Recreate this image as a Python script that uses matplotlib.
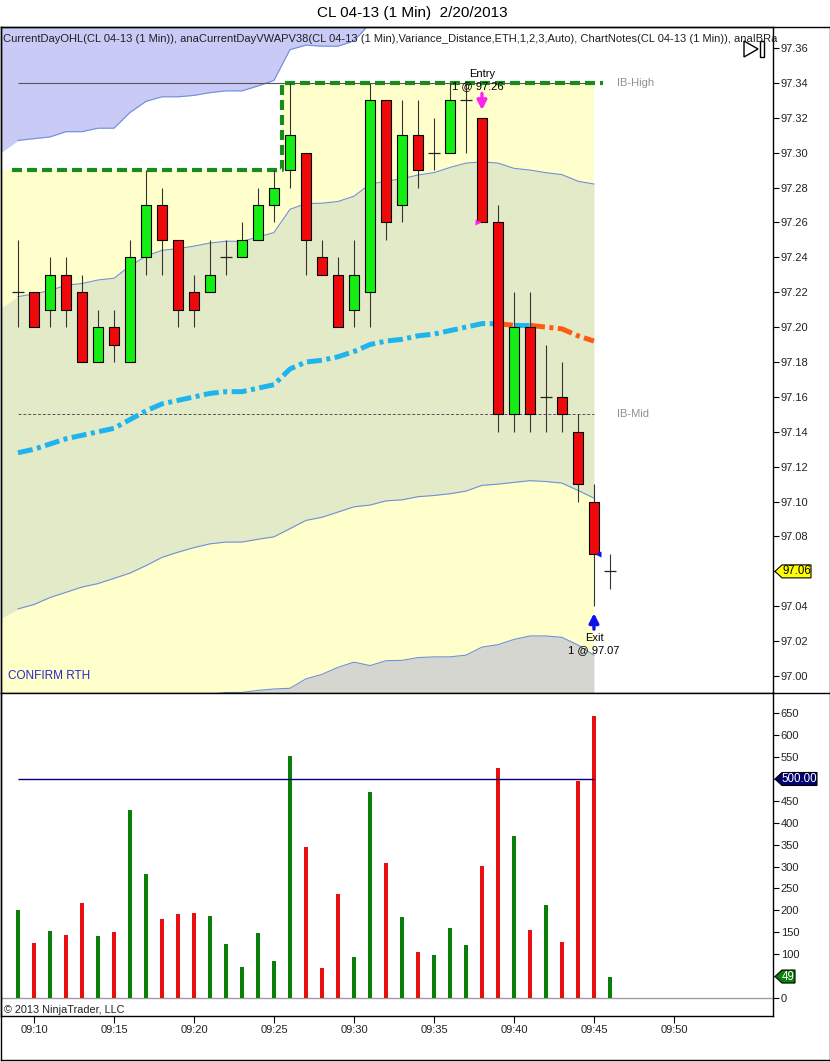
import numpy as np
import matplotlib
matplotlib.use('Agg')
import matplotlib.pyplot as plt
from matplotlib.patches import Polygon, Rectangle
from matplotlib.lines import Line2D
from matplotlib.transforms import IdentityTransform

plt.rcParams['font.family'] = ['Liberation Sans', 'DejaVu Sans']

# ---------------- data ----------------
title = "CL 04-13 (1 Min)  2/20/2013"
indicator_text = ("CurrentDayOHL(CL 04-13 (1 Min)), anaCurrentDayVWAPV38(CL 04-13 (1 Min),"
                  "Variance_Distance,ETH,1,2,3,Auto), ChartNotes(CL 04-13 (1 Min)), anaIBRa")

bar_times = ["09:09", "09:10", "09:11", "09:12", "09:13", "09:14", "09:15", "09:16", "09:17", "09:18",
             "09:19", "09:20", "09:21", "09:22", "09:23", "09:24", "09:25", "09:26", "09:27", "09:28",
             "09:29", "09:30", "09:31", "09:32", "09:33", "09:34", "09:35", "09:36", "09:37", "09:38",
             "09:39", "09:40", "09:41", "09:42", "09:43", "09:44", "09:45", "09:46"]

opens = [97.22, 97.22, 97.21, 97.23, 97.22, 97.18, 97.20, 97.18, 97.24, 97.27,
         97.25, 97.22, 97.22, 97.24, 97.24, 97.25, 97.27, 97.29, 97.30, 97.24,
         97.23, 97.21, 97.22, 97.33, 97.27, 97.31, 97.30, 97.30, 97.33, 97.32,
         97.26, 97.15, 97.20, 97.16, 97.16, 97.14, 97.10, 97.06]
highs = [97.25, 97.22, 97.24, 97.24, 97.23, 97.21, 97.21, 97.25, 97.29, 97.28,
         97.25, 97.23, 97.25, 97.25, 97.26, 97.28, 97.29, 97.34, 97.30, 97.25,
         97.24, 97.25, 97.34, 97.33, 97.33, 97.33, 97.32, 97.34, 97.34, 97.32,
         97.27, 97.22, 97.22, 97.19, 97.18, 97.15, 97.11, 97.07]
lows = [97.20, 97.20, 97.20, 97.20, 97.18, 97.18, 97.18, 97.18, 97.23, 97.23,
        97.20, 97.20, 97.22, 97.23, 97.24, 97.25, 97.26, 97.28, 97.23, 97.23,
        97.20, 97.20, 97.20, 97.25, 97.26, 97.28, 97.29, 97.30, 97.30, 97.26,
        97.14, 97.14, 97.14, 97.14, 97.14, 97.10, 97.04, 97.05]
closes = [97.22, 97.20, 97.23, 97.21, 97.18, 97.20, 97.19, 97.24, 97.27, 97.25,
          97.21, 97.21, 97.23, 97.24, 97.25, 97.27, 97.28, 97.31, 97.25, 97.23,
          97.20, 97.23, 97.33, 97.26, 97.31, 97.29, 97.30, 97.33, 97.33, 97.26,
          97.15, 97.20, 97.15, 97.16, 97.15, 97.11, 97.07, 97.06]
volumes = [201, 126, 153, 144, 217, 142, 151, 429, 283, 180,
           192, 194, 187, 123, 71, 148, 84, 552, 345, 68,
           237, 94, 470, 308, 185, 105, 98, 160, 121, 301,
           525, 370, 155, 212, 128, 495, 644, 49]

# VWAP and standard deviation (09:09 .. 09:45)
vwap = [97.128, 97.130, 97.133, 97.136, 97.138, 97.140, 97.142, 97.147, 97.152, 97.156,
        97.158, 97.160, 97.162, 97.163, 97.163, 97.165, 97.167, 97.176, 97.180, 97.181,
        97.183, 97.186, 97.190, 97.192, 97.193, 97.195, 97.196, 97.198, 97.200, 97.202,
        97.202, 97.201, 97.201, 97.200, 97.199, 97.195, 97.192]
sigma = [0.0895, 0.089, 0.088, 0.088, 0.087, 0.087, 0.086, 0.088, 0.0887, 0.088,
         0.087, 0.0864, 0.0862, 0.0862, 0.0862, 0.0866, 0.0872, 0.0915, 0.0908, 0.090,
         0.089, 0.089, 0.092, 0.0916, 0.092, 0.0922, 0.0925, 0.0935, 0.094, 0.0927,
         0.092, 0.090, 0.089, 0.0885, 0.0884, 0.0886, 0.090]
vwap_prev_bar = 97.122     # off-screen 09:08 value (only affects fills at the left edge)
sigma_prev_bar = 0.089
band_mults = [1, 2, 3]

prior_day_high = 97.29     # session high before the first visible bar
ib_high = 97.34
ib_mid = 97.15
vol_ref_level = 500

entry_time, entry_price = "09:38", 97.26
exit_time, exit_price = "09:45", 97.07

price_ticks = [97.00, 97.02, 97.04, 97.06, 97.08, 97.10, 97.12, 97.14, 97.16, 97.18,
               97.20, 97.22, 97.24, 97.26, 97.28, 97.30, 97.32, 97.34, 97.36]
volume_ticks = [0, 50, 100, 150, 200, 250, 300, 350, 400, 450, 500, 550, 600, 650]
xtick_labels = ["09:10", "09:15", "09:20", "09:25", "09:30", "09:35", "09:40", "09:45", "09:50"]

# ---------------- helpers ----------------
def minutes(t):
    h, m = t.split(':')
    return int(h) * 60 + int(m)

t0 = minutes(bar_times[0])
x = np.array([minutes(t) - t0 for t in bar_times], dtype=float)
xticks = [minutes(t) - t0 for t in xtick_labels]
O, Hh, L, C = map(np.array, (opens, highs, lows, closes))
V = np.array(volumes)
vw = np.array(vwap)
sg = np.array(sigma)
nb = len(vw)
xb = x[:nb]

W, H = 830, 1062
fig = plt.figure(figsize=(W / 100, H / 100), dpi=100)
fig.patch.set_facecolor('white')
ID = IdentityTransform()

def P(xp, yp):
    return (xp, H - yp)

axL, axR = 1, 773
pT, pB, vB = 27, 693, 1016
ax = fig.add_axes([axL / W, 1 - pB / H, (axR - axL) / W, (pB - pT) / H])
ax2 = fig.add_axes([axL / W, 1 - vB / H, (axR - axL) / W, (vB - pB) / H], sharex=ax)

XL, XR = -1.06, 47.19
ax.set_xlim(XL, XR)
ax.set_ylim(96.9903, 97.372)
ax2.set_ylim(-41.1, 696.3)

# ---------------- price panel ----------------
ib_low = 2 * ib_mid - ib_high
run_high = np.maximum.accumulate(np.maximum(prior_day_high, Hh))[:nb]
xf = np.concatenate([[XL], xb])
ax.fill_between(xf, ib_low, np.concatenate([[run_high[0]], run_high]), step='mid',
                color='#FFFFCC', lw=0, zorder=1)

vf = np.concatenate([[vwap_prev_bar], vw])
sf = np.concatenate([[sigma_prev_bar], sg])
ax.fill_between(xf, vf - sf, vf + sf, color='#E3EAC8', lw=0, zorder=1.2)
ax.fill_between(xf, vf + 2 * sf, vf + 3 * sf, color='#C9CBF6', lw=0, zorder=1.2)
ax.fill_between(xf, vf - 3 * sf, vf - 2 * sf, color='#D6D6D1', lw=0, zorder=1.2)

for k in band_mults:
    ax.plot(xb, vw + k * sg, color='#7090D8', lw=0.8, zorder=2)
    ax.plot(xb, vw - k * sg, color='#7090D8', lw=0.8, zorder=2)

# IB lines
ax.hlines(ib_high, xb[0], xb[-1], color='#555555', lw=0.8, zorder=2.2)
ax.hlines(ib_mid, xb[0], xb[-1], color='#555555', lw=0.7, linestyles=(0, (3, 2)), zorder=2.2)

# VWAP coloured by slope
slope_up = np.diff(vw) >= 0
start = 0
for i in range(1, len(slope_up) + 1):
    if i == len(slope_up) or slope_up[i] != slope_up[start]:
        col = '#1EB4EE' if slope_up[start] else '#FF5A14'
        ax.plot(xb[start:i + 1], vw[start:i + 1], color=col, lw=3.6,
                linestyle=(0, (3, 0.9, 0.8, 0.9)), solid_capstyle='butt', zorder=3)
        start = i

# current day high dashed step line
xs = np.concatenate([[xb[0] - 0.4], xb, [xb[-1] + 0.55]])
hs = np.concatenate([[run_high[0]], run_high, [run_high[-1]]])
ax.plot(xs, hs, drawstyle='steps-mid', color='#1A8A1A', lw=3.0,
        linestyle=(0, (2.4, 1.2)), zorder=4)

# candles
for xi, o, h, l, c in zip(x, O, Hh, L, C):
    ax.vlines(xi, l, h, color='#333333', lw=0.8, zorder=5)
    if abs(c - o) < 1e-9:
        ax.hlines(o, xi - 0.36, xi + 0.36, color='#222222', lw=0.9, zorder=6)
    else:
        col = '#14EE14' if c > o else '#EE0A0A'
        ax.add_patch(Rectangle((xi - 0.3125, min(o, c)), 0.625, abs(c - o),
                               facecolor=col, edgecolor='black', lw=0.8, zorder=6))

# entry / exit annotations
ie = bar_times.index(entry_time)
ix = bar_times.index(exit_time)
arrow_style = '-|>,head_length=0.55,head_width=0.28'
ax.annotate('', xy=(x[ie], Hh[ie]), xycoords='data', xytext=(0, 17.5), textcoords='offset points',
            arrowprops=dict(arrowstyle=arrow_style, color='#FF22EE',
                            lw=2.4, mutation_scale=10, shrinkA=0, shrinkB=5.5), zorder=7)
ax.annotate('Entry', xy=(x[ie], Hh[ie]), xytext=(0, 31.5), textcoords='offset points',
            ha='center', va='center', fontsize=8, color='black', zorder=7)
ax.annotate('1 @ %.2f' % entry_price, xy=(x[ie], Hh[ie]), xytext=(-3, 23), textcoords='offset points',
            ha='center', va='center', fontsize=8, color='black', zorder=7)
ax.plot([x[ie] - 0.22], [entry_price], marker='>', ms=4.5, color='#FF22EE', mec='none', zorder=7)

ax.annotate('', xy=(x[ix], L[ix]), xycoords='data', xytext=(0, -16.5), textcoords='offset points',
            arrowprops=dict(arrowstyle=arrow_style, color='#1010EE',
                            lw=2.4, mutation_scale=10, shrinkA=0, shrinkB=5), zorder=7)
ax.annotate('Exit', xy=(x[ix], L[ix]), xytext=(0, -22.5), textcoords='offset points',
            ha='center', va='center', fontsize=8, color='black', zorder=7)
ax.annotate('1 @ %.2f' % exit_price, xy=(x[ix], L[ix]), xytext=(0, -31.5), textcoords='offset points',
            ha='center', va='center', fontsize=8, color='black', zorder=7)
ax.plot([x[ix] + 0.28], [exit_price], marker='<', ms=4.5, color='#1010EE', mec='none', zorder=7)

# labels in plot
ax.text(xb[-1] + 1.45, ib_high, 'IB-High', color='#909090', fontsize=8, va='center', ha='left', zorder=7)
ax.text(xb[-1] + 1.45, ib_mid, 'IB-Mid', color='#909090', fontsize=8, va='center', ha='left', zorder=7)
fig.text(*P(8, 676), 'CONFIRM RTH', transform=ID, color='#2828C8', fontsize=8.5, va='center', ha='left')
fig.text(*P(3, 39), indicator_text, transform=ID, color='#202020', fontsize=8.0,
         va='center', ha='left')

# axis formatting, price
ax.yaxis.tick_right()
ax.set_yticks(price_ticks)
ax.set_yticklabels(['' if abs(v - C[-1]) < 1e-9 else '%.2f' % v for v in price_ticks])
ax.tick_params(axis='y', direction='out', length=4, width=0.8, labelsize=8, pad=1.5,
               labelcolor='#222222')
ax.tick_params(axis='x', bottom=False, labelbottom=False)
for s in ax.spines.values():
    s.set_linewidth(1.0)
    s.set_color('black')

# ---------------- volume panel ----------------
vcols = ['#0A800A' if c >= o else '#E80F0F' for o, c in zip(O, C)]
ax2.bar(x, V, width=0.25, color=vcols, lw=0, zorder=3)
ax2.axhline(0, color='#A0A0A0', lw=1.0, zorder=2)
ax2.hlines(vol_ref_level, xb[0], xb[-1], color='#000080', lw=1.0, zorder=4)
ax2.yaxis.tick_right()
ax2.set_yticks(volume_ticks)
hidden = {vol_ref_level}
hidden |= {v for v in volume_ticks if abs(v - V[-1]) < 25}
ax2.set_yticklabels(['' if v in hidden else str(v) for v in volume_ticks])
ax2.tick_params(axis='y', direction='out', length=4, width=0.8, labelsize=8, pad=1.5,
                labelcolor='#222222')
ax2.set_xticks(xticks)
ax2.set_xticklabels(xtick_labels)
ax2.tick_params(axis='x', direction='out', length=5, width=0.8, labelsize=8, pad=1.5,
                labelcolor='#222222')
for s in ax2.spines.values():
    s.set_linewidth(1.0)
    s.set_color('black')
fig.text(*P(4, 1010), '\u00a9 2013 NinjaTrader, LLC', transform=ID, color='#222222',
         fontsize=7.8, va='center', ha='left')

# ---------------- value tags on right axis ----------------
def tag(axis, yval, text, fc, tc, wpx):
    yd = axis.transData.transform((0, yval))[1]
    x0 = axR + 2
    pts = [(x0, yd), (x0 + 7, yd + 6.5), (x0 + wpx, yd + 6.5), (x0 + wpx, yd - 6.5), (x0 + 7, yd - 6.5)]
    fig.add_artist(Polygon(pts, closed=True, facecolor=fc, edgecolor='black', lw=0.8, transform=ID))
    fig.text(x0 + 7 + (wpx - 7) / 2, yd, text, transform=ID, color=tc, fontsize=8.3,
             ha='center', va='center')

tag(ax, C[-1], '%.2f' % C[-1], '#FFFF00', 'black', 36)
tag(ax2, vol_ref_level, '%.2f' % vol_ref_level, '#000070', 'white', 42)
tag(ax2, V[-1], str(V[-1]), '#0A800A', 'white', 20)

# ---------------- frame, title, icon ----------------
def fline(xs_, ys_, lw=1.0, color='black'):
    fig.add_artist(Line2D(xs_, [H - yy for yy in ys_], transform=ID, color=color, lw=lw))

fline([0.5, 829.5], [pT, pT])
fline([0.5, 0.5], [pT, 1060])
fline([829.5, 829.5], [pT, 1060])
fline([0.5, 829.5], [1060, 1060])
fline([axR, 829.5], [pB, pB])

fig.text(*P(412, 13), title, transform=ID, fontsize=11, ha='center', va='center', color='black')

fig.add_artist(Polygon([P(744, 41), P(744, 57), P(758, 49)], closed=True, facecolor='none',
                       edgecolor='black', lw=1.0, transform=ID))
fig.add_artist(Rectangle(P(760, 57), 3.5, 16, facecolor='white', edgecolor='black', lw=1.0, transform=ID))

fig.savefig('out.png', dpi=100)
